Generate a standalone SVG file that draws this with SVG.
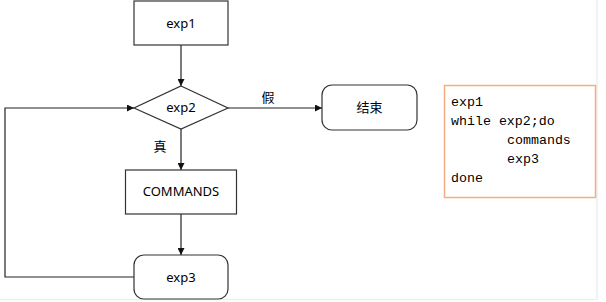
<svg xmlns="http://www.w3.org/2000/svg" width="606" height="302" viewBox="0 0 606 302">
<defs>
<style>
.n{fill:#fff;stroke:#333;stroke-width:1.2}
.t{font-family:"Noto Sans","Noto Sans CJK SC",sans-serif;font-size:13px;fill:#000;text-anchor:middle;dominant-baseline:central}
.c{fill:none;stroke:#222;stroke-width:1.2}
.code{font-family:"Liberation Mono",monospace;font-size:13.3px;fill:#000}
</style>
<marker id="a" viewBox="0 0 10 10" refX="10" refY="5" markerWidth="7" markerHeight="7" orient="auto" markerUnits="userSpaceOnUse">
<path d="M0,0 L10,5 L0,10 z" fill="#111"/>
</marker>
</defs>
<rect width="606" height="302" fill="#fff"/>
<line x1="597" y1="0" x2="597" y2="300" stroke="#eee" stroke-width="1.5"/>
<line x1="0" y1="299.5" x2="597" y2="299.5" stroke="#eee" stroke-width="1.5"/>
<g id="connectors">
<line class="c" x1="181" y1="45" x2="181" y2="86" marker-end="url(#a)"/>
<line class="c" x1="181" y1="129" x2="181" y2="170" marker-end="url(#a)"/>
<line class="c" x1="181" y1="214" x2="181" y2="255" marker-end="url(#a)"/>
<line class="c" x1="228" y1="108" x2="322" y2="108" marker-end="url(#a)"/>
<polyline class="c" points="134,277 5,277 5,108 134,108" marker-end="url(#a)"/>
<text class="t" x="268" y="97">假</text>
<text class="t" x="160" y="146">真</text>
</g>
<g id="exp1">
<rect class="n" x="134" y="1" width="94" height="44"/>
<text class="t" x="181" y="23">exp1</text>
</g>
<g id="exp2">
<polygon class="n" points="181,86 228,108 181,129 134,108"/>
<text class="t" x="181" y="107">exp2</text>
</g>
<g id="end">
<rect class="n" x="322" y="85" width="95" height="45" rx="10"/>
<text class="t" x="369.5" y="107">结束</text>
</g>
<g id="commands">
<rect class="n" x="125.5" y="170" width="111" height="44"/>
<text class="t" x="181" y="191">COMMANDS</text>
</g>
<g id="exp3">
<rect class="n" x="134" y="255" width="94" height="44" rx="10"/>
<text class="t" x="181" y="277">exp3</text>
</g>
<g id="code">
<rect x="444.5" y="85.5" width="151" height="112" fill="#fff" stroke="#f7ad80" stroke-width="1.5"/>
<text class="code" x="451" y="106">exp1</text>
<text class="code" x="451" y="125">while exp2;do</text>
<text class="code" x="507" y="144">commands</text>
<text class="code" x="507" y="163">exp3</text>
<text class="code" x="451" y="182">done</text>
</g>
</svg>
